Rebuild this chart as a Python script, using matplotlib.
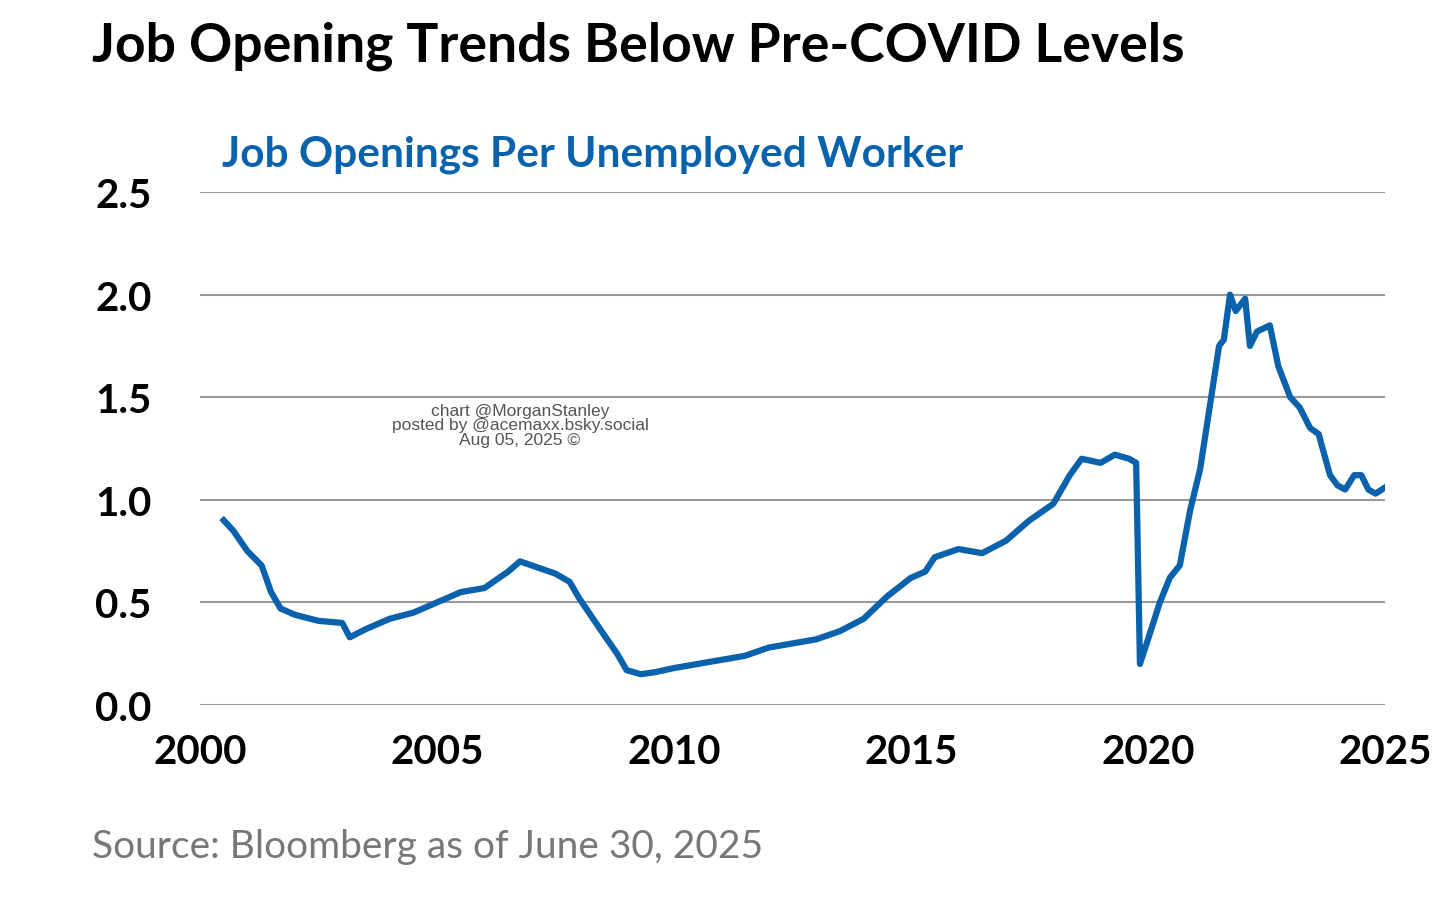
import matplotlib
matplotlib.use("Agg")
import matplotlib.pyplot as plt
plt.rcParams['font.family'] = ['Lato', 'DejaVu Sans']

years = [2000.5,2000.7,2001.0,2001.3,2001.5,2001.7,2002.0,2002.5,2003.0,2003.16,2003.5,2004.0,2004.5,2005.0,2005.5,2006.0,2006.5,2006.75,2007.0,2007.5,2007.8,2008.0,2008.5,2008.8,2009.0,2009.3,2009.6,2010.0,2010.5,2011.0,2011.5,2012.0,2012.5,2013.0,2013.5,2014.0,2014.5,2015.0,2015.3,2015.5,2016.0,2016.5,2017.0,2017.5,2018.0,2018.35,2018.6,2019.0,2019.3,2019.6,2019.75,2019.83,2020.0,2020.25,2020.46,2020.67,2020.89,2021.1,2021.3,2021.5,2021.6,2021.73,2021.85,2022.05,2022.15,2022.3,2022.57,2022.75,2023.0,2023.2,2023.42,2023.6,2023.84,2024.0,2024.16,2024.35,2024.5,2024.65,2024.8,2025.0]
values = [0.90,0.85,0.75,0.68,0.55,0.47,0.44,0.41,0.40,0.33,0.37,0.42,0.45,0.50,0.55,0.57,0.65,0.70,0.68,0.64,0.60,0.52,0.35,0.25,0.17,0.15,0.16,0.18,0.20,0.22,0.24,0.28,0.30,0.32,0.36,0.42,0.53,0.62,0.65,0.72,0.76,0.74,0.80,0.90,0.98,1.12,1.20,1.18,1.22,1.20,1.18,0.20,0.32,0.50,0.62,0.68,0.95,1.15,1.45,1.75,1.78,2.00,1.92,1.98,1.75,1.82,1.85,1.65,1.50,1.45,1.35,1.32,1.12,1.07,1.05,1.12,1.12,1.05,1.03,1.06]
yticks = [0.0,0.5,1.0,1.5,2.0,2.5]
xticks = [2000,2005,2010,2015,2020,2025]

fig = plt.figure(figsize=(14.56,9.12), dpi=100)
ax = fig.add_axes([200/1456, 1-706/912, 1185/1456, 513/912])
ax.plot(years, values, color="#0a62ad", lw=4.5, solid_joinstyle="round")
ax.set_xlim(2000, 2025)
ax.set_ylim(0, 2.5)
ax.set_yticks(yticks)
ax.set_yticklabels([f"{v:.1f}" for v in yticks], fontsize=29, fontweight="bold")
ax.set_xticks(xticks)
ax.set_xticklabels([str(x) for x in xticks], fontsize=29, fontweight="bold")
ax.tick_params(length=0, pad=20)
ax.tick_params(axis="y", pad=35)
ax.grid(axis="y", color="#999999", lw=1.5)
ax.set_axisbelow(True)
for s in ax.spines.values():
    s.set_visible(False)
fig.text(92/1456, 1-46/912, "Job Opening Trends Below Pre-COVID Levels", fontsize=38.5, fontweight="bold", va="center")
fig.text(222/1456, 1-155/912, "Job Openings Per Unemployed Worker", fontsize=30.5, fontweight="bold", color="#0a62ad", va="center")
fig.text(520/1456, 1-426/912, "chart @MorganStanley\nposted by @acemaxx.bsky.social\nAug 05, 2025 ©", fontsize=12.5, color="#555555", ha="center", va="center", linespacing=0.95, family=["Liberation Sans"])
fig.text(92/1456, 1-847/912, "Source: Bloomberg as of June 30, 2025", fontsize=28, color="#777777", va="center")
fig.savefig("out.png", dpi=100)
